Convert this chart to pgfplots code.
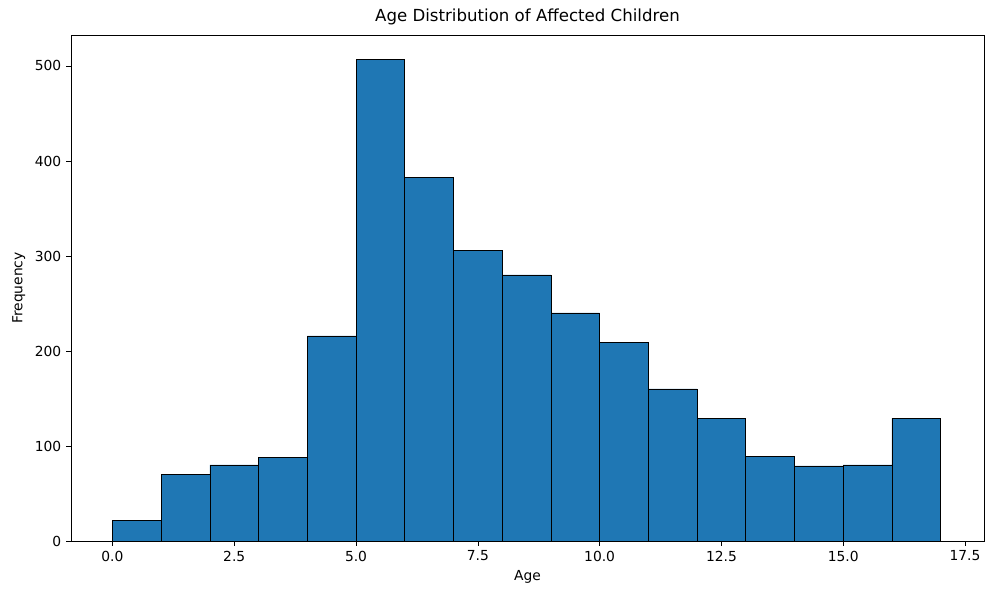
\documentclass[border=0pt]{standalone}
\usepackage{pgfplots}
\pgfplotsset{compat=1.18}
\usepackage{fontspec}
\setmainfont{DejaVu Sans}
\usetikzlibrary{calc}
\definecolor{mblue}{HTML}{1F77B4}
\begin{document}
\begin{tikzpicture}
\begin{axis}[
  scale only axis, width=9.13in, height=5.06in,
  xmin=-0.85, xmax=17.89, ymin=0, ymax=532.6,
  xtick={0,2.5,5,7.5,10,12.5,15,17.5},
  xticklabels={0.0,2.5,5.0,7.5,10.0,12.5,15.0,17.5},
  ytick={0,100,200,300,400,500},
  /pgf/number format/assume math mode=true,
  tick style={black}, tick align=outside, major tick length=3.5pt,
  xtick pos=bottom, ytick pos=left,
  ticklabel style={font=\fontsize{10}{12}\selectfont},
  xlabel={Age}, ylabel={Frequency},
  label style={font=\fontsize{10}{12}\selectfont},
  title={Age Distribution of Affected Children},
  title style={font=\fontsize{12}{14}\selectfont, yshift=-2pt},
]
\coordinate (sw) at (rel axis cs:0,0);
\addplot[ybar interval, fill=mblue, draw=black] coordinates {
(0,22)(1,70)(2,80)(3,88)(4,216)(5,507)(6,383)(7,306)(8,280)(9,240)(10,209)(11,160)(12,129)(13,89)(14,79)(15,80)(16,129)(17,129)};
\end{axis}
\pgfresetboundingbox
\useasboundingbox ($(sw)+(-0.71in,-0.59in)$) rectangle ($(sw)+(9.29in,5.41in)$);
\end{tikzpicture}
\end{document}
